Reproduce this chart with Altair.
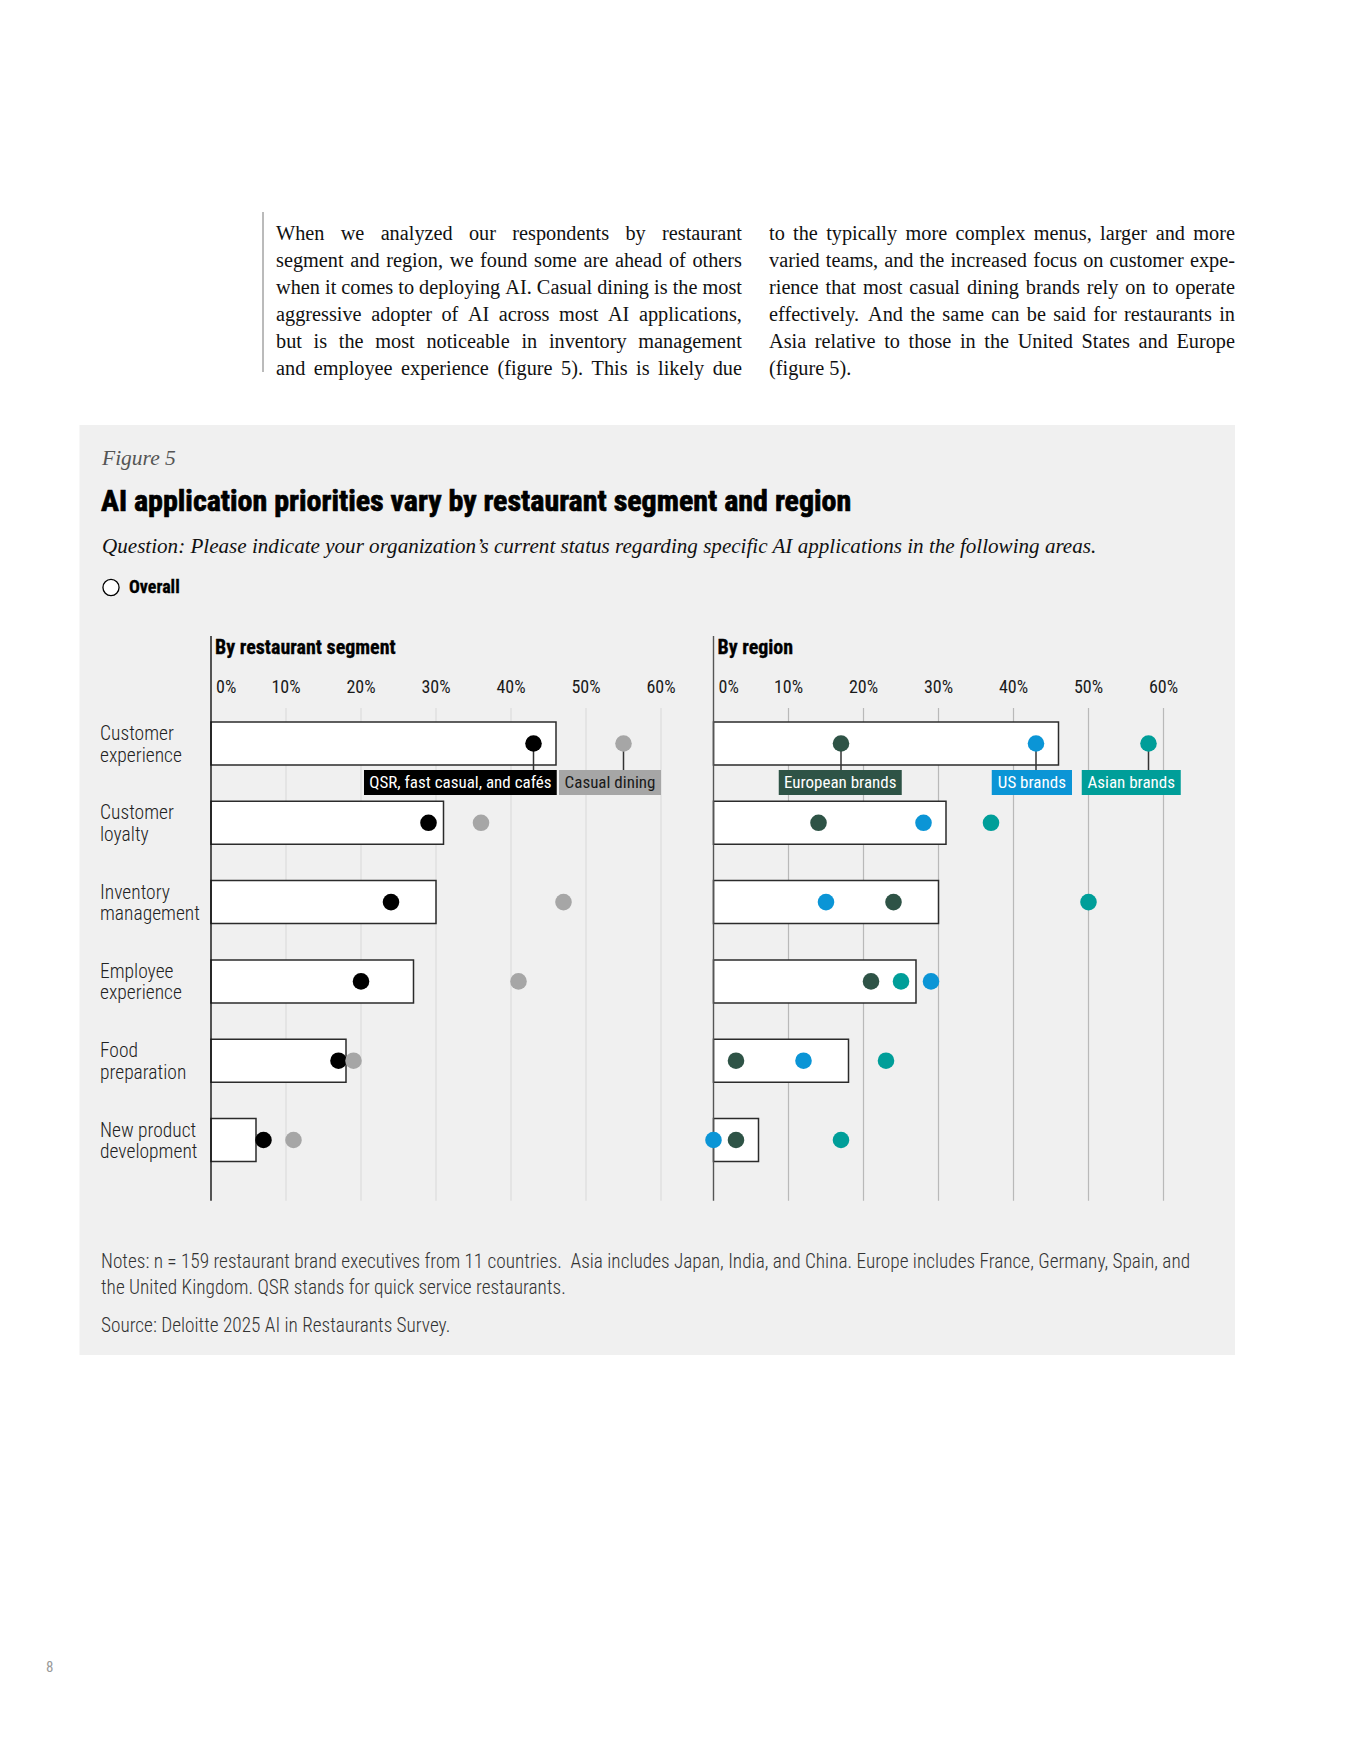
import altair as alt
import pandas as pd

# ---------------- data ----------------
categories = ["Customer experience", "Customer loyalty", "Inventory management",
              "Employee experience", "Food preparation", "New product development"]
label_lines = [["Customer", "experience"], ["Customer", "loyalty"], ["Inventory", "management"],
               ["Employee", "experience"], ["Food", "preparation"], ["New product", "development"]]

overall = [46, 31, 30, 27, 18, 6]
qsr = [43, 29, 24, 20, 17, 7]
casual = [55, 36, 47, 41, 19, 11]
europe = [17, 14, 24, 21, 3, 3]
us = [43, 28, 15, 29, 12, 0]
asia = [58, 37, 50, 25, 23, 17]

panel_titles = ["By restaurant segment", "By region"]
series_names = ["QSR, fast casual, and cafés", "Casual dining", "European brands", "US brands", "Asian brands"]
series_values = [qsr, casual, europe, us, asia]
series_panel = [0, 0, 1, 1, 1]
series_colors = ["#000000", "#a6a6a6", "#2e5346", "#0b95d6", "#009e99"]
series_text_colors = ["#ffffff", "#1a1a1a", "#ffffff", "#ffffff", "#ffffff"]

tick_values = [0, 10, 20, 30, 40, 50, 60]
tick_labels = ["0%", "10%", "20%", "30%", "40%", "50%", "60%"]

para_col1 = ["When we analyzed our respondents by restaurant",
             "segment and region, we found some are ahead of others",
             "when it comes to deploying AI. Casual dining is the most",
             "aggressive adopter of AI across most AI applications,",
             "but is the most noticeable in inventory management",
             "and employee experience (figure 5). This is likely due"]
para_col2 = ["to the typically more complex menus, larger and more",
             "varied teams, and the increased focus on customer expe-",
             "rience that most casual dining brands rely on to operate",
             "effectively. And the same can be said for restaurants in",
             "Asia relative to those in the United States and Europe",
             "(figure 5)."]

fig_label = "Figure 5"
title_text = "AI application priorities vary by restaurant segment and region"
question_text = "Question: Please indicate your organization\u2019s current status regarding specific AI applications in the following areas."
legend_text = "Overall"
notes_lines = ["Notes: n = 159 restaurant brand executives from 11 countries.\u00a0 Asia includes Japan, India, and China. Europe includes France, Germany, Spain, and",
               "the United Kingdom. QSR stands for quick service restaurants."]
source_text = "Source: Deloitte 2025 AI in Restaurants Survey."
page_number = "8"

# ---------------- layout (not data) ----------------
W, H = 1338, 1737
panel_offset = [0, 67]               # horizontal offset of each panel, in % units
ann_box = [(20.4, 46.1), (46.4, 60.0), (8.7, 25.1), (37.1, 47.8), (49.1, 62.3)]
SANS = "Roboto Condensed"
SERIF = "Liberation Serif"

def yu(page_y):
    """page pixel -> row units of the y scale"""
    return (page_y - 8 - 735.5) / 79.3

XS = alt.Scale(domain=[-27.0667, 151.3333], nice=False, zero=False)
YS = alt.Scale(domain=[yu(8), yu(8 + H)], nice=False, zero=False, reverse=True)

def X(f):
    return alt.X(f, type="quantitative", scale=XS, axis=None)

def Y(f):
    return alt.Y(f, type="quantitative", scale=YS, axis=None)

dummy = pd.DataFrame({"a": [0]})

def txt(text, x, y, size, font=SANS, weight="normal", style="normal", color="#1a1a1a",
        align="left", stroke_w=0):
    kw = {}
    if stroke_w > 0:
        kw = {"stroke": color, "strokeWidth": stroke_w}
    return alt.Chart(dummy).mark_text(
        font=font, fontSize=size, fontWeight=weight, fontStyle=style, color=color,
        align=align, baseline="middle", **kw
    ).encode(x=alt.value(x - 8), y=alt.value(y - 8), text=alt.value(text))

# Times / Liberation Serif advance widths (1/1000 em) for justified paragraph text
_TW = {' ': 250, '!': 333, '"': 408, "'": 333, '(': 333, ')': 333, ',': 250, '-': 333, '.': 250,
       '/': 278, ':': 278, ';': 278, '?': 444,
       'A': 722, 'B': 667, 'C': 667, 'D': 722, 'E': 611, 'F': 556, 'G': 722, 'H': 722, 'I': 333,
       'J': 389, 'K': 722, 'L': 611, 'M': 889, 'N': 722, 'O': 722, 'P': 556, 'Q': 722, 'R': 667,
       'S': 556, 'T': 611, 'U': 722, 'V': 722, 'W': 944, 'X': 722, 'Y': 722, 'Z': 611,
       'a': 444, 'b': 500, 'c': 444, 'd': 500, 'e': 444, 'f': 333, 'g': 500, 'h': 500, 'i': 278,
       'j': 278, 'k': 500, 'l': 278, 'm': 778, 'n': 500, 'o': 500, 'p': 500, 'q': 500, 'r': 333,
       's': 389, 't': 278, 'u': 500, 'v': 500, 'w': 722, 'x': 500, 'y': 500, 'z': 444}

def wwidth(word):
    return sum(_TW.get(c, 500) for c in word) / 1000.0

COL_W = 466.0
col_x = [276.0, 769.0]
para_cols = [para_col1, para_col2]
justified = [[True] * 6, [True] * 5 + [False]]
nat = [sum(wwidth(w) for w in ln.split()) + 0.25 * (len(ln.split()) - 1)
       for c in range(2) for ln, j in zip(para_cols[c], justified[c]) if j]
PSIZE = min(20.5, min(COL_W / n for n in nat))

word_rows = []
for c in range(2):
    for k, ln in enumerate(para_cols[c]):
        words = ln.split()
        widths = [wwidth(w) * PSIZE for w in words]
        if justified[c][k] and len(words) > 1:
            gap = (COL_W - sum(widths)) / (len(words) - 1)
        else:
            gap = 0.25 * PSIZE
        x = col_x[c]
        for w, wd in zip(words, widths):
            word_rows.append({"w": w, "px": x - 8, "py": 233.5 + 27 * k - 8})
            x += wd + gap
words_df = pd.DataFrame(word_rows)

# ---------------- tables ----------------
bars = pd.DataFrame([
    {"panel": p, "row": i, "x0": panel_offset[p], "x1": v + panel_offset[p],
     "y0": i - 0.271, "y1": i + 0.271}
    for p in range(2) for i, v in enumerate(overall)
])

dots = pd.DataFrame([
    {"series": series_names[s], "row": i, "xpos": v + panel_offset[series_panel[s]],
     "order": s, "col": series_colors[s]}
    for s in range(len(series_names)) for i, v in enumerate(series_values[s])
])

grid = pd.DataFrame([
    {"panel": p, "xpos": t + panel_offset[p], "y0": yu(708), "y1": yu(1200.7)}
    for p in range(2) for t in tick_values if t > 0
])
axis_lines = pd.DataFrame([
    {"panel": p, "xpos": panel_offset[p], "y0": yu(636), "y1": yu(1200.7)} for p in range(2)
])
tick_df = pd.DataFrame([
    {"panel": p, "tick": t, "xpos": t + panel_offset[p], "label": lab, "y": yu(688)}
    for p in range(2) for t, lab in zip(tick_values, tick_labels)
])
headers = pd.DataFrame([
    {"xpos": panel_offset[p], "label": panel_titles[p], "y": yu(648)} for p in range(2)
])
rowlab = pd.DataFrame([{"row": i, "lines": label_lines[i]} for i in range(len(categories))])

ann = pd.DataFrame([
    {"series": series_names[s],
     "xdot": series_values[s][0] + panel_offset[series_panel[s]],
     "bl": ann_box[s][0] + panel_offset[series_panel[s]],
     "br": ann_box[s][1] + panel_offset[series_panel[s]],
     "bc": (ann_box[s][0] + ann_box[s][1]) / 2 + panel_offset[series_panel[s]],
     "ydot": 0, "ytop": yu(770), "ybot": yu(795), "ymid": yu(782.5),
     "col": series_colors[s], "tcolor": series_text_colors[s]}
    for s in range(len(series_names))
])

# ---------------- layers ----------------
layers = []

# gray figure background
layers.append(alt.Chart(dummy).mark_rect(color="#f0f0f0").encode(
    x=alt.value(79.5 - 8), x2=alt.value(1235 - 8), y=alt.value(425 - 8), y2=alt.value(1355 - 8)))

# paragraph rule and justified text
layers.append(alt.Chart(dummy).mark_rule(color="#777777", strokeWidth=1).encode(
    x=alt.value(263 - 8), y=alt.value(212 - 8), y2=alt.value(372 - 8)))
layers.append(alt.Chart(words_df).mark_text(
    font=SERIF, fontSize=PSIZE, align="left", baseline="middle", color="#111111").encode(
    x=alt.X("px:Q", scale=None), y=alt.Y("py:Q", scale=None), text="w"))

# headings
layers.append(txt(fig_label, 102, 459, 21.5, font=SERIF, style="italic", color="#555555"))
layers.append(txt(title_text, 101, 502, 30, weight="bold", color="#000000", stroke_w=0.7))
layers.append(txt(question_text, 102, 547, 21.1, font=SERIF, style="italic", color="#111111"))

# legend
layers.append(alt.Chart(dummy).mark_point(shape="circle", size=260, filled=False, stroke="#000000",
                                          strokeWidth=1.3, fill="#ffffff", fillOpacity=1, opacity=1).encode(
    x=alt.value(111 - 8), y=alt.value(587.5 - 8)))
layers.append(txt(legend_text, 129, 587.5, 18, weight="bold", color="#000000", stroke_w=0.3))

# gridlines
layers.append(alt.Chart(grid[grid.panel == 0]).mark_rule(color="#dcdcdc", strokeWidth=1.2).encode(
    x=X("xpos"), y=Y("y0"), y2="y1"))
layers.append(alt.Chart(grid[grid.panel == 1]).mark_rule(color="#b9b9b9", strokeWidth=1.2).encode(
    x=X("xpos"), y=Y("y0"), y2="y1"))

# tick labels
layers.append(alt.Chart(tick_df[tick_df.tick == 0]).mark_text(
    font=SANS, fontSize=18, align="left", baseline="middle", dx=5, color="#1a1a1a").encode(
    x=X("xpos"), y=Y("y"), text="label"))
layers.append(alt.Chart(tick_df[tick_df.tick != 0]).mark_text(
    font=SANS, fontSize=18, align="center", baseline="middle", color="#1a1a1a").encode(
    x=X("xpos"), y=Y("y"), text="label"))

# panel headers
layers.append(alt.Chart(headers).mark_text(
    font=SANS, fontSize=20, fontWeight="bold", align="left", baseline="middle", dx=4,
    color="#000000", stroke="#000000", strokeWidth=0.3).encode(
    x=X("xpos"), y=Y("y"), text="label"))

# row labels
layers.append(alt.Chart(rowlab).mark_text(
    font=SANS, fontSize=19.5, fontWeight=300, align="left", baseline="middle", lineHeight=21.6,
    dy=-9.5, color="#222222").encode(x=alt.value(100 - 8), y=Y("row"), text="lines"))

# overall bars
layers.append(alt.Chart(bars).mark_rect(fill="#ffffff", stroke="#2b2b2b", strokeWidth=1.5).encode(
    x=X("x0"), x2="x1", y=Y("y0"), y2="y1"))

# axis lines at 0%
layers.append(alt.Chart(axis_lines[axis_lines.panel == 0]).mark_rule(strokeWidth=1.4, color="#111111").encode(
    x=X("xpos"), y=Y("y0"), y2="y1"))
layers.append(alt.Chart(axis_lines[axis_lines.panel == 1]).mark_rule(strokeWidth=1.4, color="#555555").encode(
    x=X("xpos"), y=Y("y0"), y2="y1"))

# annotation connectors and boxes
layers.append(alt.Chart(ann).mark_rule(color="#333333", strokeWidth=1.5).encode(
    x=X("xdot"), y=Y("ydot"), y2="ytop"))
layers.append(alt.Chart(ann).mark_rect().encode(
    x=X("bl"), x2="br", y=Y("ytop"), y2="ybot",
    color=alt.Color("col:N", scale=None)))
layers.append(alt.Chart(ann).mark_text(font=SANS, fontSize=17, align="center", baseline="middle").encode(
    x=X("bc"), y=Y("ymid"), text="series",
    color=alt.Color("tcolor:N", scale=None)))

# dots
layers.append(alt.Chart(dots).mark_circle(size=275, opacity=1).encode(
    x=X("xpos"), y=Y("row"),
    color=alt.Color("col:N", scale=None),
    order=alt.Order("order:Q"),
    tooltip=["series:N", "xpos:Q"]))

# notes and source
layers.append(txt(notes_lines[0], 101, 1262, 19.3, weight=300, color="#333333"))
layers.append(txt(notes_lines[1], 101, 1288, 19.3, weight=300, color="#333333"))
layers.append(txt(source_text, 101, 1326, 19.3, weight=300, color="#333333"))

# page number
layers.append(txt(page_number, 46, 1667, 15, font=SANS, color="#9a9a9a"))

chart = alt.layer(*layers).properties(
    width=W, height=H, padding=0, autosize=alt.AutoSizeParams(type="none"), background="#ffffff"
).configure_view(stroke=None)

chart.save("out.html", embed_options={"renderer": "svg", "actions": False})
